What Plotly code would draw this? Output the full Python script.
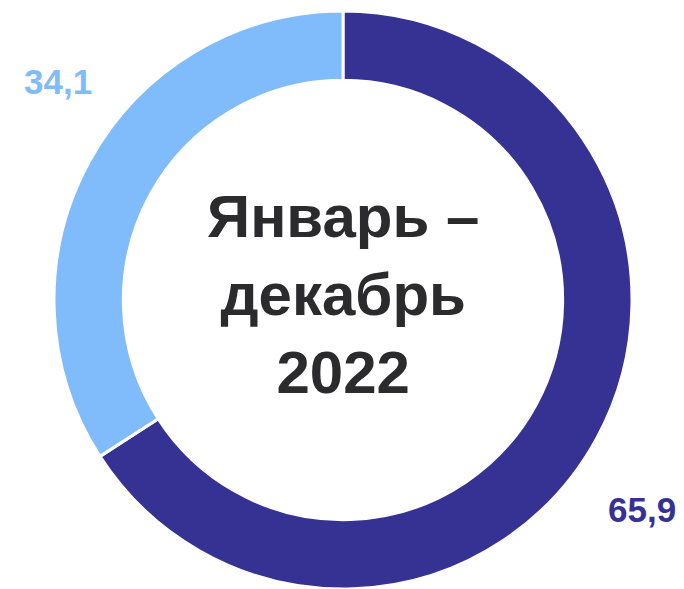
import plotly.graph_objects as go

categories = ["Категория 1", "Категория 2"]
values = [65.9, 34.1]
value_labels = ["65,9", "34,1"]
colors = ["#363294", "#80BBFB"]
center_text = "Январь –<br>декабрь<br>2022"

W, H = 684, 589

fig = go.Figure()
fig.add_trace(go.Pie(
    labels=categories,
    values=values,
    hole=0.76,
    sort=False,
    direction="clockwise",
    rotation=0,
    marker=dict(colors=colors, line=dict(color="#ffffff", width=3)),
    textinfo="none",
    hoverinfo="label+value",
    showlegend=False,
    domain=dict(x=[54 / W, 632 / W], y=[0.0, 578 / H]),
))

fig.add_annotation(
    x=343 / W, y=1 - 294 / H, xref="paper", yref="paper",
    text="<b>" + center_text + "</b>", showarrow=False,
    font=dict(family="Liberation Sans, Arial, sans-serif", size=60, color="#2b2b2e"),
    xanchor="center", yanchor="middle", align="center",
)

label_pos = [(642 / W, 1 - 509 / H), (58 / W, 1 - 82 / H)]
for (lx, ly), txt, col in zip(label_pos, value_labels, colors):
    fig.add_annotation(
        x=lx, y=ly, xref="paper", yref="paper",
        text="<b>" + txt + "</b>", showarrow=False,
        font=dict(family="Liberation Sans, Arial, sans-serif", size=35, color=col),
        xanchor="center", yanchor="middle",
    )

fig.update_layout(
    width=W, height=H,
    margin=dict(l=0, r=0, t=0, b=0),
    paper_bgcolor="#ffffff",
    plot_bgcolor="#ffffff",
)

fig.write_html(
    "out.html",
    config={"displayModeBar": False},
    post_script="document.body.style.margin='0';document.body.style.overflow='hidden';",
)
